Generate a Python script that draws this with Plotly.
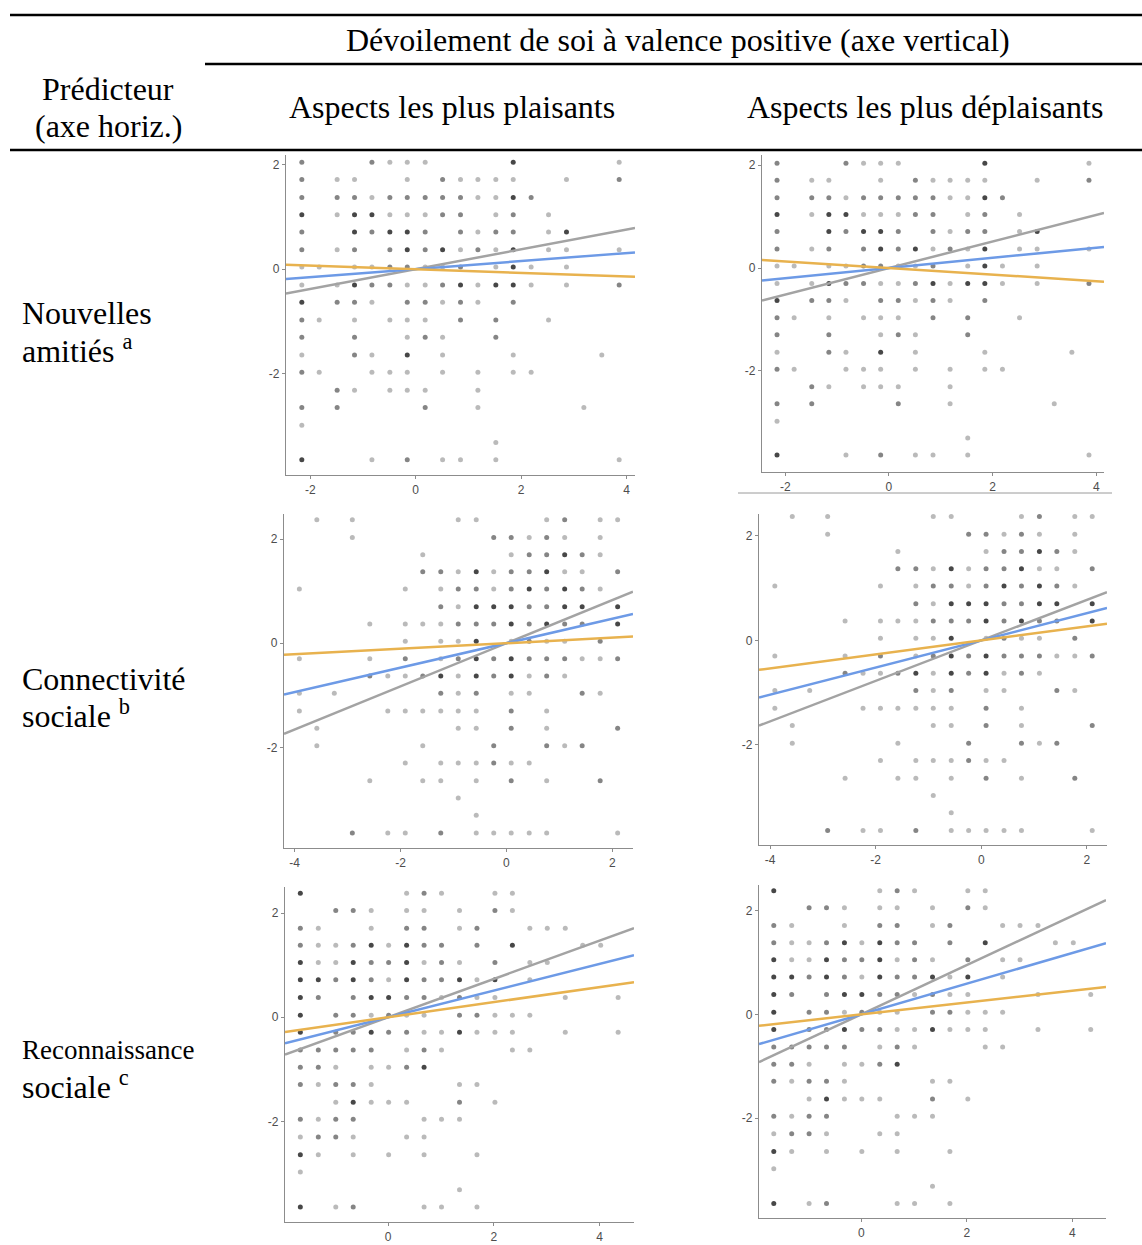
import plotly.graph_objects as go

W, H = 1142, 1245

# ---------------- DATA ----------------
# Row 1 : Nouvelles amitiés (grid of x / y values and overlap counts)
nouv_x = [-2.16, -1.83, -1.49, -1.16, -0.83, -0.49, -0.16, 0.18, 0.51, 0.85,
          1.18, 1.52, 1.85, 2.19, 2.52, 2.86, 3.19, 3.53, 3.86]
nouv_y = [2.04, 1.71, 1.37, 1.04, 0.71, 0.37, 0.04, -0.30, -0.63, -0.97,
          -1.30, -1.64, -1.97, -2.31, -2.64, -2.98, -3.31, -3.64]
nouv_n = [
    [2,0,0,0,2,1,1,1,0,0,0,0,3,0,0,0,0,0,1],
    [2,0,1,1,0,0,1,0,2,1,1,1,1,0,0,1,0,0,2],
    [2,0,2,2,1,2,2,2,2,2,1,1,3,2,0,0,0,0,0],
    [3,0,1,3,3,1,1,1,2,2,0,1,2,0,1,0,0,0,0],
    [2,0,0,3,2,3,3,2,0,2,1,2,2,0,1,3,0,0,0],
    [2,0,1,2,0,2,3,2,3,1,2,1,3,0,1,1,0,0,1],
    [1,1,0,1,1,2,2,1,1,2,0,1,3,1,0,1,0,0,0],
    [1,0,1,3,2,2,1,1,2,3,1,3,3,1,0,1,0,0,2],
    [3,0,2,2,1,0,2,2,1,2,1,0,2,0,0,0,0,0,0],
    [2,1,0,1,0,1,1,1,0,2,0,2,0,0,1,0,0,0,0],
    [2,0,0,2,0,0,1,2,1,0,0,2,0,0,0,0,0,0,0],
    [1,0,0,2,1,0,3,0,1,0,0,0,1,0,0,0,0,1,0],
    [2,1,0,0,1,1,1,0,1,0,1,0,1,1,0,0,0,0,0],
    [0,0,2,1,0,1,1,1,0,0,1,0,0,0,0,0,0,0,0],
    [2,0,2,0,0,0,0,2,0,0,1,0,0,0,0,0,1,0,0],
    [1,0,0,0,0,0,0,0,0,0,0,0,0,0,0,0,0,0,0],
    [0,0,0,0,0,0,0,0,0,0,0,1,0,0,0,0,0,0,0],
    [3,0,0,0,1,0,2,0,1,1,0,1,0,0,0,0,0,0,1],
]

# Row 2 : Connectivité sociale
conn_x = [-3.91, -3.58, -3.25, -2.91, -2.58, -2.24, -1.91, -1.58, -1.24, -0.91,
          -0.57, -0.24, 0.09, 0.43, 0.76, 1.10, 1.43, 1.77, 2.10]
conn_y = [2.37, 2.03, 1.70, 1.37, 1.04, 0.70, 0.37, 0.04, -0.30, -0.63,
          -0.96, -1.30, -1.63, -1.97, -2.30, -2.64, -2.97, -3.30, -3.64]
conn_n = [
    [0,1,0,1,0,0,0,0,0,1,1,0,0,0,1,2,0,1,1],
    [0,0,0,1,0,0,0,0,0,0,0,2,2,1,2,1,0,1,0],
    [0,0,0,0,0,0,0,1,0,0,0,0,1,2,2,3,2,1,0],
    [0,0,0,0,0,0,0,2,2,1,3,1,2,2,3,1,1,0,2],
    [1,0,0,0,0,0,1,0,1,2,2,1,2,3,2,3,2,1,0],
    [0,0,0,0,0,0,0,0,2,1,3,3,3,2,2,3,3,0,3],
    [0,0,0,0,1,0,1,1,1,2,2,2,3,2,3,2,2,0,3],
    [0,0,0,0,0,0,1,0,1,1,3,0,1,2,1,1,0,2,0],
    [1,0,0,0,1,0,2,0,1,2,3,2,3,2,2,2,1,1,2],
    [0,0,0,0,2,1,1,2,3,1,3,2,3,1,2,1,0,0,0],
    [1,0,1,0,0,0,0,0,2,1,2,0,1,1,0,0,2,1,0],
    [1,0,0,0,0,1,1,1,1,1,1,0,2,0,1,0,0,0,0],
    [0,1,0,0,0,0,0,0,0,1,1,0,2,0,1,0,0,0,2],
    [0,1,0,0,0,0,0,1,0,0,0,2,0,0,2,1,2,0,0],
    [0,0,0,0,0,0,1,0,1,1,1,2,1,1,0,0,0,0,0],
    [0,0,0,0,1,0,0,1,1,0,1,0,2,0,1,0,0,2,0],
    [0,0,0,0,0,0,0,0,0,1,0,0,0,0,0,0,0,0,0],
    [0,0,0,0,0,0,0,0,0,0,1,0,0,0,0,0,0,0,0],
    [0,0,0,2,0,1,1,0,2,0,1,1,1,1,1,0,0,0,1],
]

# Row 3 : Reconnaissance sociale
reco_x = [-1.66, -1.32, -0.99, -0.66, -0.32, 0.01, 0.35, 0.68, 1.01, 1.35,
          1.68, 2.02, 2.35, 2.68, 3.01, 3.35, 3.68, 4.02, 4.35]
reco_y = [2.38, 2.05, 1.71, 1.38, 1.05, 0.72, 0.38, 0.04, -0.29, -0.63,
          -0.96, -1.29, -1.63, -1.96, -2.30, -2.64, -2.97, -3.31, -3.64]
reco_n = [
    [3,0,0,0,0,0,1,2,1,0,0,1,1,0,0,0,0,0,0],
    [0,0,2,2,1,0,1,1,0,1,0,2,1,0,0,0,0,0,0],
    [2,1,0,0,1,0,2,2,0,1,2,0,0,1,1,1,0,0,0],
    [2,1,1,2,3,1,3,2,2,0,2,0,3,0,0,0,1,1,0],
    [3,1,1,3,2,2,3,1,2,1,0,2,0,1,1,0,0,0,0],
    [3,3,2,3,2,1,3,2,2,3,1,3,0,1,0,0,0,0,0],
    [3,2,0,2,3,3,2,2,1,2,1,1,0,0,0,1,0,0,1],
    [3,0,2,2,1,2,1,1,0,2,2,1,1,1,0,0,0,0,0],
    [3,0,2,2,3,2,2,1,1,3,1,1,1,0,0,1,0,0,1],
    [2,2,2,2,2,0,1,2,1,0,0,0,1,1,0,0,0,0,0],
    [2,2,1,0,1,1,2,3,0,0,0,0,0,0,0,0,0,0,0],
    [2,1,2,2,1,0,0,0,0,1,1,0,0,0,0,0,0,0,0],
    [0,0,1,3,1,1,1,0,0,2,0,1,0,0,0,0,0,0,0],
    [2,1,2,2,0,0,0,1,1,1,0,0,0,0,0,0,0,0,0],
    [1,2,2,1,0,0,1,1,0,0,0,0,0,0,0,0,0,0,0],
    [3,1,0,1,0,1,0,1,0,0,1,0,0,0,0,0,0,0,0],
    [1,0,0,0,0,0,0,0,0,0,0,0,0,0,0,0,0,0,0],
    [0,0,0,0,0,0,0,0,0,1,0,0,0,0,0,0,0,0,0],
    [3,0,1,2,0,0,0,1,1,0,1,0,0,0,0,0,0,0,0],
]

# Regression slopes (lines through origin) per panel: row1 L/R, row2 L/R, row3 L/R
slope_gray = [0.189, 0.258, 0.414, 0.388, 0.368, 0.474]
slope_blue = [0.077, 0.099, 0.235, 0.260, 0.256, 0.295]
slope_orange = [-0.035, -0.064, 0.053, 0.134, 0.145, 0.114]

tick_vals = [-4, -2, 0, 2, 4]
tick_text = ["-4", "-2", "0", "2", "4"]

header_top = "Dévoilement de soi à valence positive (axe vertical)"
col_titles = ["Aspects les plus plaisants", "Aspects les plus déplaisants"]
pred_title = ["Prédicteur", "(axe horiz.)"]
row_labels = [["Nouvelles", "amitiés <sup>a</sup>"],
              ["Connectivité", "sociale <sup>b</sup>"],
              ["Reconnaissance", "sociale <sup>c</sup>"]]

# ---------------- LAYOUT (pixel boxes & axis ranges) ----------------
panels = [
    dict(data=0, px=(286, 635), py=(155, 475), xr=(-2.46, 4.16), yr=(-3.93, 2.18)),
    dict(data=0, px=(762, 1104), py=(155, 472), xr=(-2.45, 4.15), yr=(-3.97, 2.20)),
    dict(data=1, px=(284, 633), py=(514, 848), xr=(-4.20, 2.39), yr=(-3.93, 2.48)),
    dict(data=1, px=(759, 1107), py=(514, 845), xr=(-4.21, 2.38), yr=(-3.92, 2.42)),
    dict(data=2, px=(285, 634), py=(887, 1222), xr=(-1.95, 4.65), yr=(-3.93, 2.50)),
    dict(data=2, px=(759, 1106), py=(885, 1218), xr=(-1.94, 4.64), yr=(-3.92, 2.49)),
]
datasets = [(nouv_x, nouv_y, nouv_n), (conn_x, conn_y, conn_n), (reco_x, reco_y, reco_n)]
OPAC = {1: 0.27, 2: 0.48, 3: 0.72}


def points(xs, ys, counts):
    px, py, pn = [], [], []
    for yv, row in zip(ys, counts):
        for xv, c in zip(xs, row):
            if c:
                px.append(xv)
                py.append(yv)
                pn.append(c)
    return px, py, pn


def fx(p):
    return p / W


def fy(p):
    return 1 - p / H


fig = go.Figure()
axis_style = dict(showgrid=False, zeroline=False, showline=True, linecolor="#8c8c8c",
                  linewidth=1.3, ticks="outside", ticklen=3, tickcolor="#8c8c8c",
                  tickfont=dict(family="Liberation Sans, Arial", size=12, color="#4d4d4d"),
                  tickvals=tick_vals, ticktext=tick_text, fixedrange=True)

for i, p in enumerate(panels, start=1):
    xs, ys, ns = datasets[p["data"]]
    ptx, pty, ptn = points(xs, ys, ns)
    xa = "x" if i == 1 else f"x{i}"
    ya = "y" if i == 1 else f"y{i}"
    fig.add_trace(go.Scatter(
        x=ptx, y=pty, mode="markers", xaxis=xa, yaxis=ya, showlegend=False,
        marker=dict(size=5, color="black", opacity=[OPAC[n] for n in ptn], line=dict(width=0)),
        hoverinfo="skip"))
    x0, x1 = p["xr"]
    for slopes, col in ((slope_gray, "#a3a3a3"), (slope_blue, "#6d9ae6"), (slope_orange, "#e8b24e")):
        s = slopes[i - 1]
        fig.add_trace(go.Scatter(
            x=[x0, x1], y=[s * x0, s * x1], mode="lines", xaxis=xa, yaxis=ya,
            showlegend=False, line=dict(color=col, width=2.5), hoverinfo="skip"))
    key = "" if i == 1 else str(i)
    fig.layout[f"xaxis{key}"] = dict(domain=[fx(p["px"][0]), fx(p["px"][1])], range=list(p["xr"]),
                                     anchor=ya, **axis_style)
    fig.layout[f"yaxis{key}"] = dict(domain=[fy(p["py"][1]), fy(p["py"][0])], range=list(p["yr"]),
                                     anchor=xa, **axis_style)

shapes = []
for (xa0, xa1, yy, w, c) in [(10, 1142, 15, 2.5, "black"), (205, 1142, 64, 2.5, "black"),
                             (10, 1142, 150, 2.5, "black"), (738, 1112, 493, 1, "#9a9a9a")]:
    shapes.append(dict(type="line", xref="paper", yref="paper", x0=fx(xa0), x1=fx(xa1),
                       y0=fy(yy), y1=fy(yy), line=dict(color=c, width=w)))

SERIF = "Liberation Serif, Times New Roman, serif"
ann = []


def add_text(text, x, y, anchor="center", size=32):
    ann.append(dict(text=text, x=fx(x), y=fy(y), xref="paper", yref="paper", showarrow=False,
                    xanchor=anchor, yanchor="middle",
                    font=dict(family=SERIF, size=size, color="black")))


add_text(header_top, 678, 40)
add_text(col_titles[0], 452, 107)
add_text(col_titles[1], 925, 107)
add_text(pred_title[0], 108, 89)
add_text(pred_title[1], 108, 126)
row_y = [(313, 349), (679, 714), (1050, 1085)]
row_sizes = [32, 32, 27]
for lab, (y1, y2), sz in zip(row_labels, row_y, row_sizes):
    add_text(lab[0], 20, y1, "left", sz)
    add_text(lab[1], 20, y2, "left", 32)

fig.update_layout(width=W, height=H, margin=dict(l=0, r=0, t=0, b=0),
                  paper_bgcolor="white", plot_bgcolor="white",
                  shapes=shapes, annotations=ann)

fig.write_html("out.html", config={"displayModeBar": False})

# remove the default 8px body margin of the browser page
with open("out.html", "r", encoding="utf-8") as f:
    html = f.read()
html = html.replace("<head>", "<head><style>html,body{margin:0;padding:0;overflow:hidden;}</style>", 1)
with open("out.html", "w", encoding="utf-8") as f:
    f.write(html)
